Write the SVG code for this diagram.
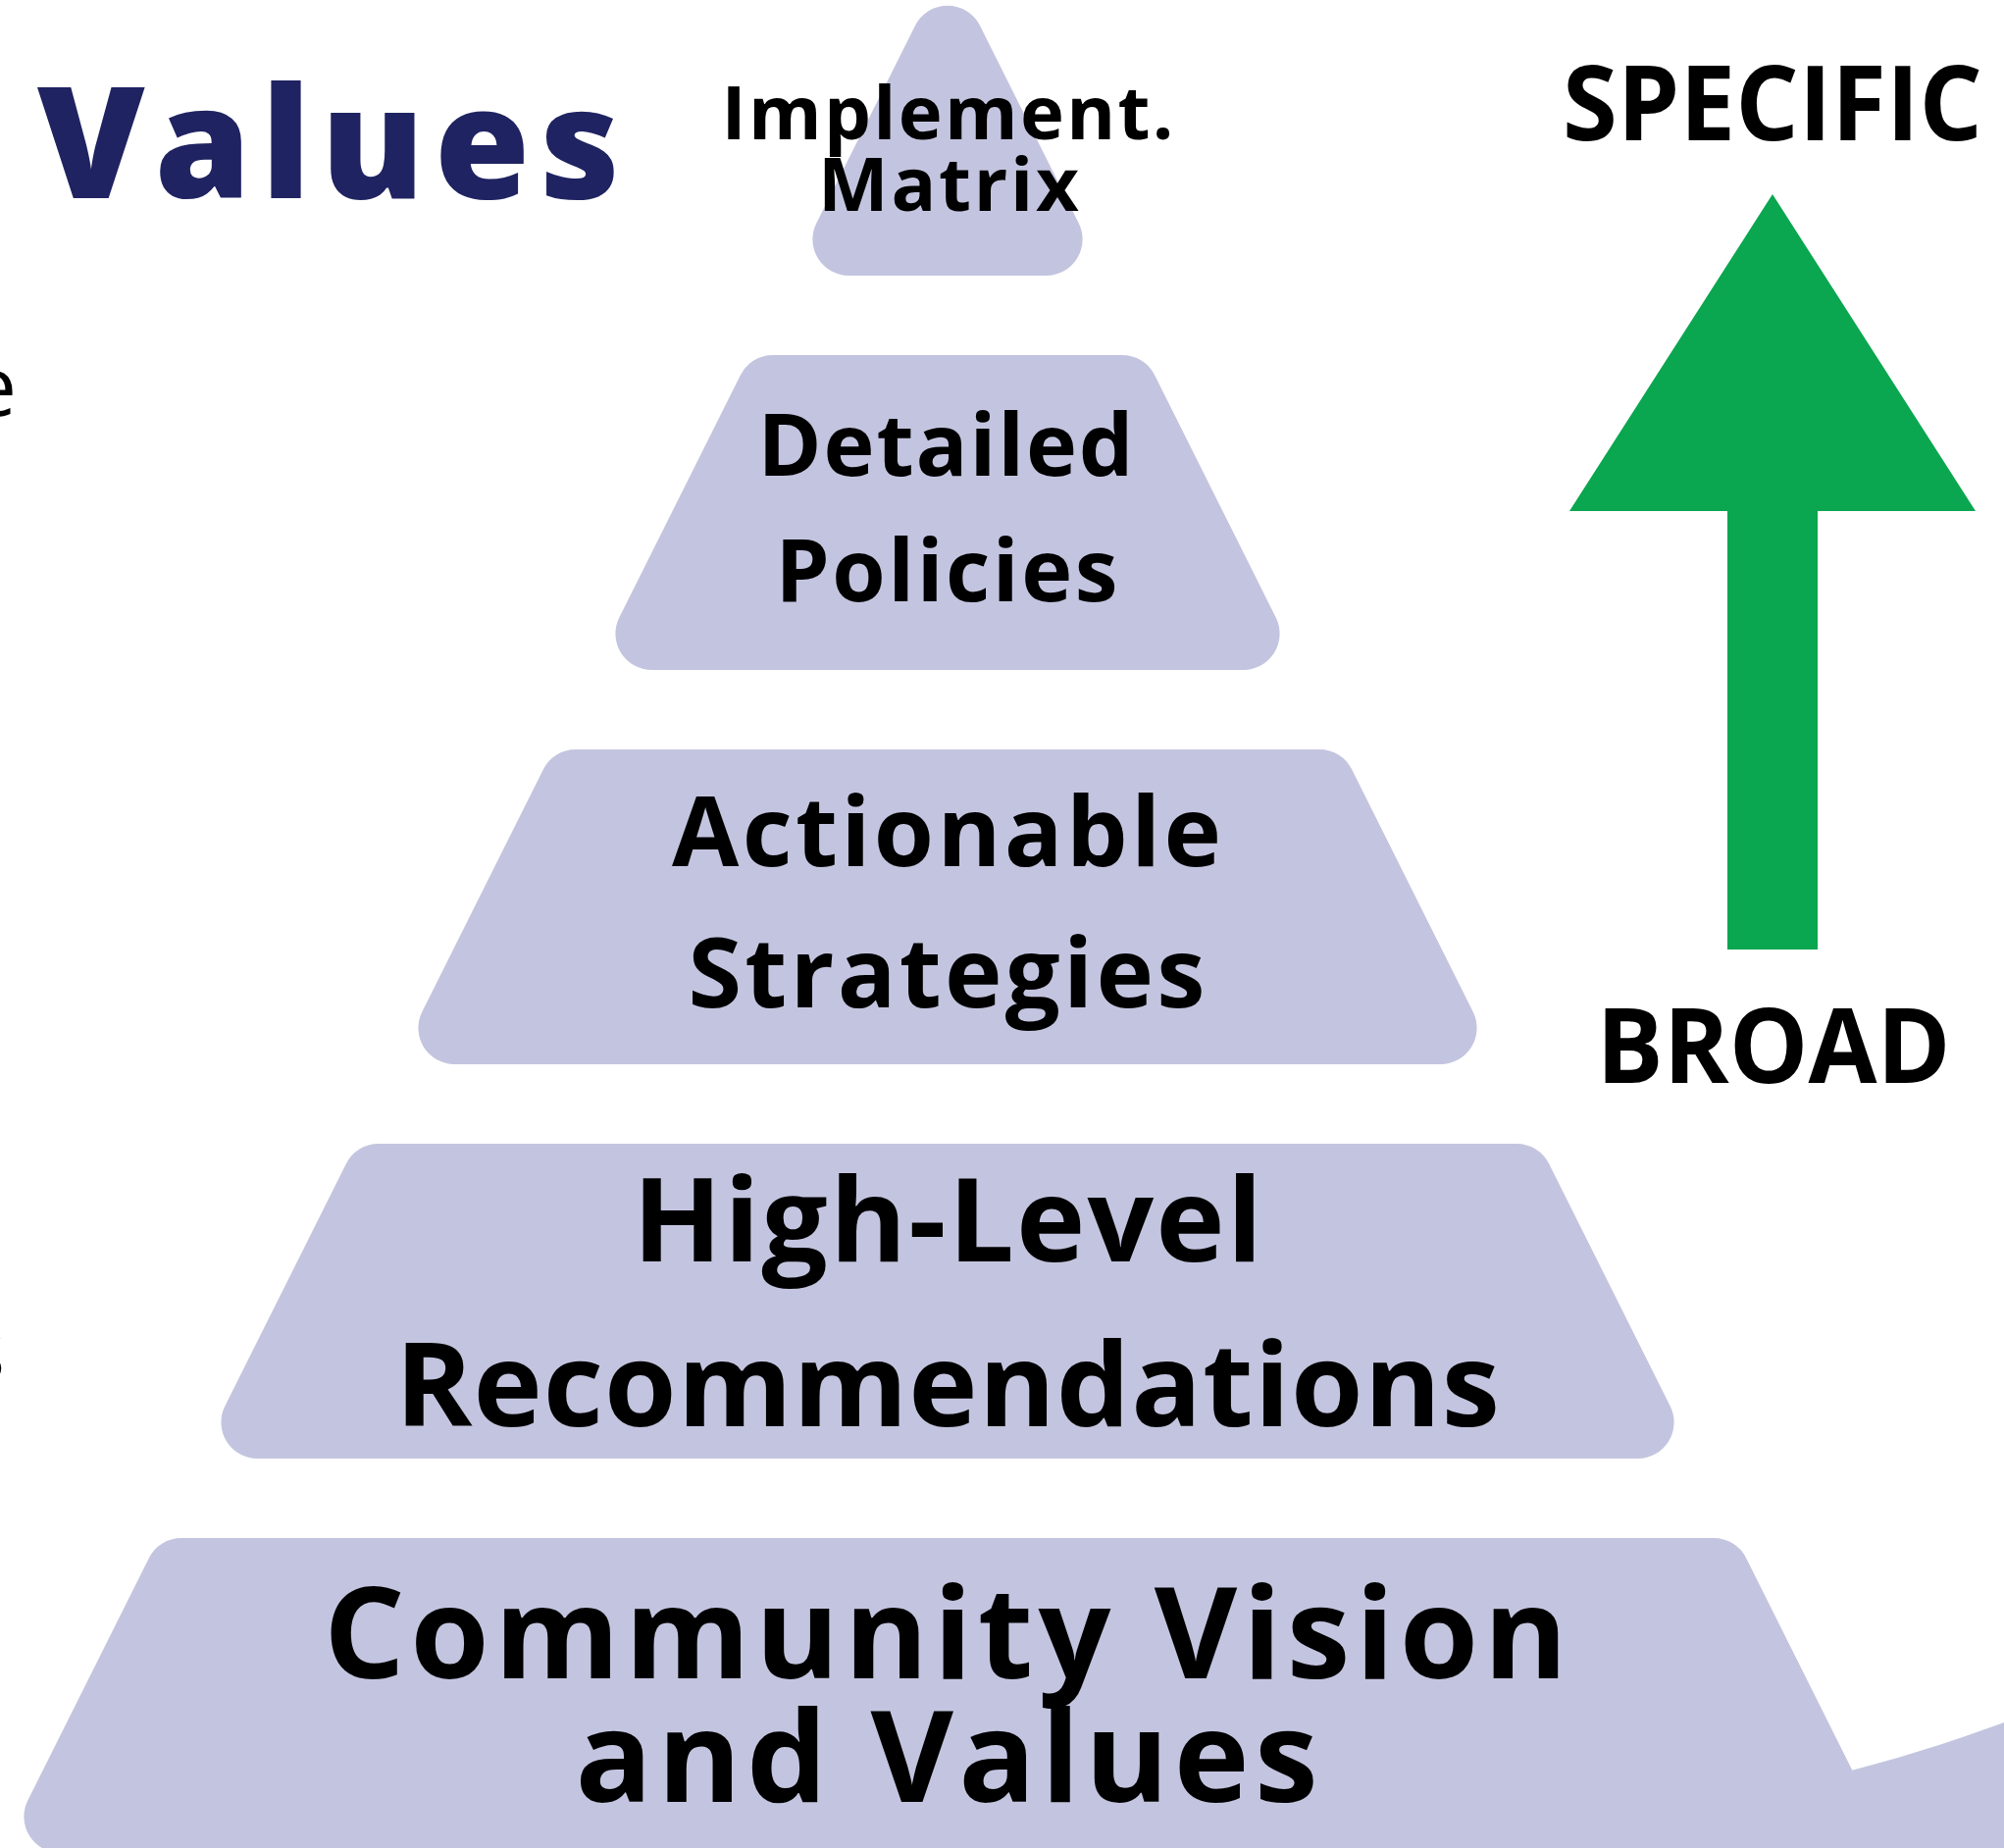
<svg xmlns="http://www.w3.org/2000/svg" width="2043" height="1884" viewBox="0 0 2043 1884">
<style>
.tier{fill:#C3C5E0}
.lbl{font-family:"Open Sans","Liberation Sans",sans-serif;font-weight:700;fill:#000;text-anchor:middle}
.frag{font-family:"Open Sans","Liberation Sans",sans-serif;font-weight:400;fill:#000;text-anchor:end;font-size:84px}
</style>
<rect x="0" y="0" width="2043" height="1884" fill="#FFFFFF"/>

<g id="title">
<text x="38" y="202" font-family="Open Sans, Liberation Sans, sans-serif" font-weight="800" font-size="158" fill="#1F2361" textLength="594" lengthAdjust="spacing">Values</text>
</g>

<g id="fragments">
<text class="frag" x="17" y="424">e</text>
<text class="frag" x="5" y="1407">s</text>
</g>

<g id="tier-implement">
<path class="tier" d="M932.9 26.2 A37 37 0 0 1 999.1 26.2 L1099.7 227.5 A37 37 0 0 1 1066.6 281 L865.4 281 A37 37 0 0 1 832.3 227.5 Z"/>
<text class="lbl" x="966" y="142" font-size="76" textLength="461" lengthAdjust="spacing">Implement.</text>
<text class="lbl" x="967" y="215" font-size="76" textLength="266" lengthAdjust="spacing">Matrix</text>
</g>

<g id="tier-policies">
<path class="tier" d="M787.9 362 L1144.1 362 A37 37 0 0 1 1177.2 382.5 L1300.7 629.5 A37 37 0 0 1 1267.6 683 L664.4 683 A37 37 0 0 1 631.3 629.5 L754.8 382.5 A37 37 0 0 1 787.9 362 Z"/>
<text class="lbl" x="964" y="485" font-size="88" textLength="383" lengthAdjust="spacing">Detailed</text>
<text class="lbl" x="965" y="613" font-size="88" textLength="349" lengthAdjust="spacing">Policies</text>
</g>

<g id="tier-strategies">
<path class="tier" d="M586.9 764 L1345.1 764 A37 37 0 0 1 1378.2 784.5 L1501.7 1031.5 A37 37 0 0 1 1468.6 1085 L463.4 1085 A37 37 0 0 1 430.3 1031.5 L553.8 784.5 A37 37 0 0 1 586.9 764 Z"/>
<text class="lbl" x="965" y="883" font-size="99" textLength="560" lengthAdjust="spacing">Actionable</text>
<text class="lbl" x="965" y="1027" font-size="99" textLength="527" lengthAdjust="spacing">Strategies</text>
</g>

<g id="tier-recommendations">
<path class="tier" d="M385.9 1166 L1546.1 1166 A37 37 0 0 1 1579.2 1186.5 L1702.7 1433.5 A37 37 0 0 1 1669.6 1487 L262.4 1487 A37 37 0 0 1 229.3 1433.5 L352.8 1186.5 A37 37 0 0 1 385.9 1166 Z"/>
<text class="lbl" x="966" y="1286" font-size="119" textLength="642" lengthAdjust="spacing">High-Level</text>
<text class="lbl" x="966" y="1454" font-size="119" textLength="1126" lengthAdjust="spacing">Recommendations</text>
</g>

<g id="tier-vision">
<path class="tier" d="M184.9 1568 L1747.1 1568 A37 37 0 0 1 1780.2 1588.5 L1903.7 1835.5 A37 37 0 0 1 1870.6 1889 L61.4 1889 A37 37 0 0 1 28.3 1835.5 L151.8 1588.5 A37 37 0 0 1 184.9 1568 Z"/>
<path class="tier" d="M1870 1805 L1887.5 1805 Q1965 1785 2043 1756 L2043 1884 L1870 1884 Z"/>
<text class="lbl" x="964" y="1711" font-size="130" textLength="1268" lengthAdjust="spacing">Community Vision</text>
<text class="lbl" x="965" y="1837" font-size="130" textLength="757" lengthAdjust="spacing">and Values</text>
</g>

<g id="scale-arrow">
<path d="M1807 198 L2014 521 L1853 521 L1853 968 L1761 968 L1761 521 L1600 521 Z" fill="#0BA650"/>
<text class="lbl" x="1807" y="143" font-size="105" textLength="428" lengthAdjust="spacingAndGlyphs">SPECIFIC</text>
<text class="lbl" x="1808" y="1104" font-size="105" textLength="361" lengthAdjust="spacingAndGlyphs">BROAD</text>
</g>
</svg>
